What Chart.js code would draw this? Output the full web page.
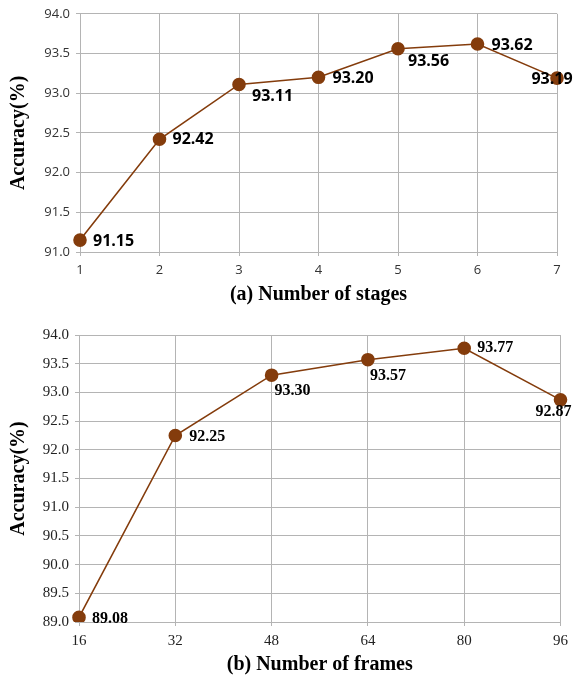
<!DOCTYPE html>
<html lang="en">
<head>
    <meta charset="UTF-8">
    <title>Accuracy vs stages / frames</title>
    <script src="https://cdn.jsdelivr.net/npm/chart.js"></script>
    <style>
        body { margin: 0; background: #fff; }
        canvas { position: absolute; left: 0; }
        #chartA { top: 0; }
        #chartB { top: 320px; }
    </style>
</head>
<body>
    <canvas id="chartA" width="574" height="320"></canvas>
    <canvas id="chartB" width="574" height="363"></canvas>

    <script>
        // (a) number of stages
        const stages = ['1', '2', '3', '4', '5', '6', '7'];
        const stagesAcc = [91.15, 92.42, 93.11, 93.20, 93.56, 93.62, 93.19];

        // (b) number of frames
        const frames = ['16', '32', '48', '64', '80', '96'];
        const framesAcc = [89.08, 92.25, 93.30, 93.57, 93.77, 92.87];

        const brown = '#843C0C';
        const gridColor = '#b4b4b4';

        // draws the value next to each point, offsets given per point
        const valueLabels = {
            id: 'valueLabels',
            afterDatasetsDraw(chart, args, opts) {
                const ctx = chart.ctx;
                const meta = chart.getDatasetMeta(0);
                const data = chart.data.datasets[0].data;
                ctx.save();
                ctx.font = opts.font;
                ctx.fillStyle = '#000';
                ctx.textBaseline = 'middle';
                meta.data.forEach((pt, i) => {
                    const o = opts.offsets[i];
                    ctx.textAlign = o[2] || 'left';
                    ctx.fillText(data[i].toFixed(2), pt.x + o[0], pt.y + o[1]);
                });
                ctx.restore();
            }
        };

        function makeChart(id, labels, values, cfg) {
            return new Chart(document.getElementById(id), {
                type: 'line',
                data: {
                    labels: labels,
                    datasets: [{
                        data: values,
                        borderColor: brown,
                        backgroundColor: brown,
                        borderWidth: 1.6,
                        pointRadius: 6,
                        pointHoverRadius: 6,
                        tension: 0
                    }]
                },
                plugins: [valueLabels],
                options: {
                    responsive: false,
                    animation: false,
                    devicePixelRatio: 1,
                    layout: { padding: cfg.padding },
                    plugins: {
                        legend: { display: false },
                        tooltip: { enabled: false },
                        valueLabels: { font: cfg.labelFont, offsets: cfg.offsets }
                    },
                    scales: {
                        x: {
                            offset: false,
                            afterFit: s => { s.height = cfg.xHeight; },
                            grid: { color: gridColor, tickLength: 4, tickColor: gridColor },
                            border: { color: gridColor },
                            ticks: { color: cfg.tickColor, font: cfg.tickFont, padding: cfg.xTickPad, maxRotation: 0 },
                            title: {
                                display: true,
                                text: cfg.xTitle,
                                color: '#000',
                                font: { family: 'Liberation Serif', size: 20, weight: 'bold' },
                                padding: { top: 0, bottom: cfg.xTitlePad }
                            }
                        },
                        y: {
                            min: cfg.yMin,
                            max: 94,
                            afterFit: s => { s.width = cfg.yWidth; },
                            grid: { color: gridColor, tickLength: 4, tickColor: gridColor },
                            border: { color: gridColor },
                            ticks: {
                                stepSize: 0.5,
                                color: cfg.tickColor,
                                font: cfg.tickFont,
                                padding: 6,
                                callback: v => v.toFixed(1)
                            },
                            title: {
                                display: true,
                                text: 'Accuracy(%)',
                                color: '#000',
                                font: { family: 'Liberation Serif', size: 20, weight: 'bold' },
                                padding: { top: 7, bottom: 0 }
                            }
                        }
                    }
                }
            });
        }

        makeChart('chartA', stages, stagesAcc, {
            padding: { left: 0, right: 17, top: 8, bottom: 0 },
            yMin: 91,
            yWidth: 80,
            xHeight: 68,
            xTickPad: 6,
            xTitlePad: 13,
            xTitle: '(a) Number of stages',
            tickColor: '#333',
            tickFont: { family: 'Open Sans', size: 13 },
            labelFont: 'bold 16px "Open Sans"',
            offsets: [[13, 1], [13, 0], [13, 12], [14, 1], [10, 13], [14, 1], [-5, 1, 'center']]
        });

        makeChart('chartB', frames, framesAcc, {
            padding: { left: 0, right: 12, top: 11, bottom: 0 },
            yMin: 89,
            yWidth: 79,
            xHeight: 61,
            xTickPad: 6,
            xTitlePad: 6,
            xTitle: '(b) Number of frames',
            tickColor: '#222',
            tickFont: { family: 'Liberation Serif', size: 15 },
            labelFont: 'bold 16px "Liberation Serif"',
            offsets: [[13, 1], [14, 1], [3, 16], [2, 16], [13, 0], [-7, 12, 'center']]
        });
    </script>
</body>
</html>
